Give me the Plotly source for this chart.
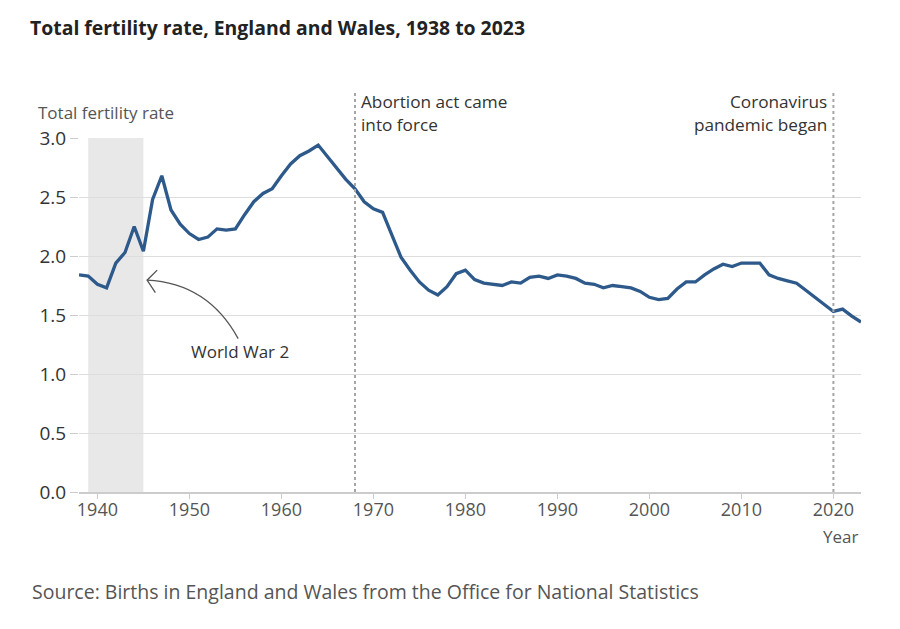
import plotly.graph_objects as go

# Data
years = list(range(1938, 2024))
tfr = [
    1.84, 1.83, 1.76, 1.73, 1.94, 2.03, 2.25, 2.04, 2.48, 2.68,  # 1938-1947
    2.39, 2.27, 2.19, 2.14, 2.16, 2.23, 2.22, 2.23, 2.35, 2.46,  # 1948-1957
    2.53, 2.57, 2.68, 2.78, 2.85, 2.89, 2.94, 2.84, 2.75, 2.65,  # 1958-1967
    2.57, 2.46, 2.40, 2.37, 2.18, 1.99, 1.88, 1.78, 1.71, 1.67,  # 1968-1977
    1.74, 1.85, 1.88, 1.80, 1.77, 1.76, 1.75, 1.78, 1.77, 1.82,  # 1978-1987
    1.83, 1.81, 1.84, 1.83, 1.81, 1.77, 1.76, 1.73, 1.75, 1.74,  # 1988-1997
    1.73, 1.70, 1.65, 1.63, 1.64, 1.72, 1.78, 1.78, 1.84, 1.89,  # 1998-2007
    1.93, 1.91, 1.94, 1.94, 1.94, 1.84, 1.81, 1.79, 1.77, 1.71,  # 2008-2017
    1.65, 1.59, 1.53, 1.55, 1.49, 1.44,                          # 2018-2023
]

war_years = [1939, 1945]
events = [1968, 2020]
event_labels = [["Abortion act came", "into force"], ["Coronavirus", "pandemic began"]]
y_ticks = [0.0, 0.5, 1.0, 1.5, 2.0, 2.5, 3.0]
x_ticks = [1940, 1950, 1960, 1970, 1980, 1990, 2000, 2010, 2020]

font = "Open Sans"

fig = go.Figure()

fig.add_trace(
    go.Scatter(
        x=years,
        y=tfr,
        mode="lines",
        line=dict(color="#2d5a8a", width=3.3),
        hoverinfo="skip",
    )
)

# Gray band for the war years
fig.add_shape(
    type="rect",
    xref="x",
    yref="y",
    x0=war_years[0],
    x1=war_years[1],
    y0=0,
    y1=3.0,
    fillcolor="#e8e8e8",
    line_width=0,
    layer="below",
)

# Dashed event lines and their labels (one annotation per line, tight spacing)
for yr, lines, side in zip(events, event_labels, ["left", "right"]):
    fig.add_shape(
        type="line",
        xref="x",
        yref="paper",
        x0=yr,
        x1=yr,
        y0=0,
        y1=1.127,
        line=dict(color="#a6a6a6", width=2, dash="3px,3px"),
    )
    for i, txt in enumerate(lines):
        fig.add_annotation(
            x=yr,
            y=1.102 - i * 0.0625,
            xref="x",
            yref="paper",
            text=txt,
            showarrow=False,
            xanchor=side,
            yanchor="middle",
            xshift=4 if side == "left" else -4,
            font=dict(family=font, size=17.2, color="#333333"),
        )

# Curved arrow pointing at the war band
fig.add_shape(
    type="path",
    xref="x",
    yref="y",
    path="M 1955.3,1.30 Q 1952.0,1.77 1945.4,1.795",
    line=dict(color="#555555", width=1.3),
)
fig.add_shape(
    type="path",
    xref="x",
    yref="y",
    path="M 1946.5,1.88 L 1945.4,1.795 L 1946.3,1.69",
    line=dict(color="#555555", width=1.3),
)
fig.add_annotation(
    x=1955.5,
    y=1.19,
    xref="x",
    yref="y",
    text="World War 2",
    showarrow=False,
    xanchor="center",
    yanchor="middle",
    font=dict(family=font, size=17, color="#333333"),
)

fig.update_layout(
    width=892,
    height=621,
    plot_bgcolor="white",
    paper_bgcolor="white",
    showlegend=False,
    margin=dict(l=71, r=39, t=130, b=137),
    title=dict(
        text="<b>Total fertility rate, England and Wales, 1938 to 2023</b>",
        x=0.0247,
        xanchor="left",
        y=0.968,
        yanchor="middle",
        font=dict(family=font, size=19.4, color="#222222"),
    ),
    font=dict(family=font),
)

fig.update_xaxes(
    range=[1938, 2023],
    tickvals=x_ticks,
    showgrid=False,
    showline=True,
    linecolor="#cccccc",
    linewidth=2,
    ticks="outside",
    ticklen=5,
    tickcolor="#cccccc",
    ticklabelstandoff=-5,
    tickfont=dict(family=font, size=18, color="#555555"),
    zeroline=False,
)

fig.update_yaxes(
    range=[0, 3.0],
    tickvals=y_ticks,
    tickformat=".1f",
    showgrid=True,
    gridcolor="#dddddd",
    gridwidth=1.3,
    zeroline=False,
    ticks="outside",
    ticklen=8,
    tickcolor="#cccccc",
    tickfont=dict(family=font, size=19, color="#333333"),
)

fig.add_annotation(
    x=-0.0554, y=1.0726, xref="paper", yref="paper", yanchor="middle",
    xanchor="left", text="Total fertility rate", showarrow=False,
    font=dict(family=font, size=17, color="#555555"),
)
fig.add_annotation(
    x=0.9987, y=-0.125, xref="paper", yref="paper", yanchor="middle",
    xanchor="right", text="Year", showarrow=False,
    font=dict(family=font, size=17, color="#555555"),
)
fig.add_annotation(
    x=-0.0631, y=-0.2805, xref="paper", yref="paper", yanchor="middle",
    xanchor="left", text="Source: Births in England and Wales from the Office for National Statistics",
    showarrow=False,
    font=dict(family=font, size=19.5, color="#555555"),
)

fig.write_html("out.html")
